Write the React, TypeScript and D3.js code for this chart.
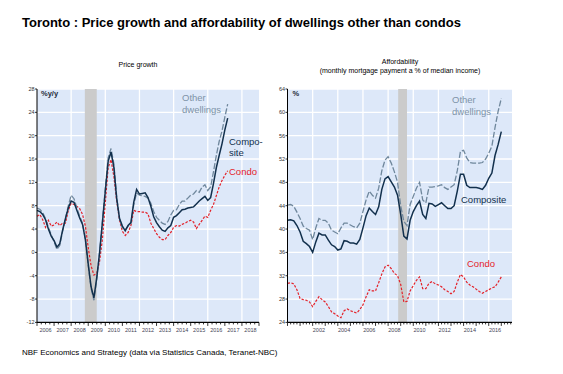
import React from "react";
import * as d3 from "d3";

// price growth, % y/y, one value every 2 months from Jan 2006
const growthStart = 2006;
const growthStep = 2 / 12;
const growthComposite = [
  7.2, 7.0, 6.5, 5.6, 4.0, 2.8,
  2.0, 0.9, 1.5, 3.8, 5.8, 7.6,
  8.8, 8.6, 7.2, 5.9, 4.8, 2.2,
  -2.0, -5.9, -7.8, -4.3, 0.0, 5.2,
  10.5, 15.6, 17.2, 14.6, 9.2, 5.8,
  4.5, 3.7, 4.6, 5.1, 8.6, 10.8,
  10.0, 10.1, 10.2, 9.4, 7.9, 6.1,
  5.1, 4.4, 3.8, 3.6, 4.2, 4.6,
  6.0, 6.3, 6.8, 7.3, 7.4, 7.6,
  7.7, 7.8, 8.3, 8.8, 9.2, 9.6,
  8.9, 9.4, 11.8, 14.5, 16.6, 18.6,
  21.0, 23.0,
];
const growthOther = [
  7.6, 7.4, 6.8, 5.8, 4.3, 3.0,
  1.8, 0.5, 1.2, 3.6, 5.8, 8.0,
  9.8, 9.2, 7.6, 6.2, 5.0, 2.3,
  -2.2, -6.2, -8.2, -4.6, 0.0, 5.4,
  11.0, 16.2, 17.8, 15.2, 9.6, 5.7,
  4.2, 3.9, 4.5, 5.0, 8.2, 10.2,
  9.8, 9.7, 9.6, 9.3, 8.4, 7.0,
  6.0, 5.5, 5.0, 4.8, 5.3, 6.4,
  7.2, 7.3, 8.2, 8.8, 8.8, 9.3,
  9.8, 10.0, 10.6, 10.3, 11.2, 11.6,
  10.6, 11.2, 13.8, 16.6, 19.0, 20.8,
  23.2, 25.4,
];
const growthCondo = [
  6.2, 6.5, 5.6, 4.3, 5.5, 4.5,
  4.7, 5.2, 4.6, 5.0, 5.0, 7.2,
  8.4, 8.2, 7.9, 7.5, 6.5, 4.5,
  0.8, -2.3, -3.9, -3.6, -1.5, 2.3,
  8.5, 14.5, 15.9, 13.0, 8.8, 5.5,
  3.6, 2.9, 3.4, 4.6, 7.2, 7.0,
  7.0, 6.9, 6.9, 6.6, 5.0, 4.1,
  3.2, 2.6, 2.2, 2.2, 2.9, 3.4,
  4.3, 4.6, 4.5, 4.8, 5.0, 5.3,
  5.5, 5.2, 4.1, 4.8, 5.5, 6.2,
  6.0, 7.2, 8.2, 9.7, 11.2, 12.3,
  13.2, 14.0,
];
const growthTicks = [28, 24, 20, 16, 12, 8, 4, 0, -4, -8, -12];
const growthYears = [2006, 2007, 2008, 2009, 2010, 2011, 2012, 2013, 2014, 2015, 2016, 2017, 2018];
const growthGrid = [2008, 2010, 2012, 2014, 2016, 2018];

// affordability, % of median income, quarterly from 2000Q1
const affordStart = 2000;
const affordStep = 0.25;
const affordComposite = [
  41.5, 41.6, 41.4, 40.6,
  39.5, 37.9, 37.5, 37.0,
  36.0, 37.8, 39.3, 39.0,
  39.0, 38.1, 37.3, 37.0,
  36.4, 36.6, 38.0, 37.9,
  37.6, 37.6, 37.4, 38.2,
  40.2, 42.3, 43.6, 43.0,
  42.5, 43.8, 46.8, 48.6,
  49.0, 48.1, 47.2, 45.8,
  42.5, 38.8, 38.3, 41.5,
  43.0, 44.0, 44.8, 42.5,
  41.8, 44.4, 44.3, 43.9,
  44.2, 44.5, 44.0, 43.5,
  43.5, 44.0, 46.5, 49.4,
  49.4, 47.5, 47.1, 47.1,
  47.1, 47.0, 46.8, 47.5,
  48.7, 49.6, 52.6, 54.5,
  56.7,
];
const affordOther = [
  44.1, 44.2, 43.9, 42.9,
  41.8, 40.5, 40.1, 39.8,
  38.2, 40.2, 41.8, 41.5,
  41.5, 41.0, 39.8, 39.5,
  39.2, 40.2, 41.0, 41.0,
  40.7, 40.4, 40.2, 41.0,
  43.0, 45.0, 46.5, 45.8,
  45.3, 47.0, 50.0, 51.8,
  52.4, 51.3, 49.8, 48.0,
  44.0, 41.3, 40.6, 44.2,
  45.6, 47.0, 48.0, 45.0,
  44.5, 47.2, 47.2, 47.3,
  47.4, 47.6, 47.1, 46.8,
  47.2, 47.6, 50.0, 53.3,
  53.5, 52.2, 51.4, 51.3,
  51.3, 51.3, 51.4, 52.0,
  53.0, 54.2, 57.4, 60.2,
  62.4,
];
const affordCondo = [
  30.7, 30.8, 30.6, 29.6,
  28.1, 27.9, 27.8, 27.5,
  26.7, 27.6, 28.4, 27.9,
  27.5, 26.7, 25.8, 25.5,
  25.1, 24.8, 26.0, 26.3,
  26.0, 25.8, 25.6, 26.2,
  27.0, 28.4, 29.6, 29.4,
  29.4, 30.8, 32.3, 33.5,
  33.8, 33.2, 32.4, 32.0,
  30.5, 27.5, 27.6, 29.4,
  30.3, 31.2, 31.8, 29.8,
  29.8, 30.7, 31.0, 30.6,
  30.4, 30.1, 29.6, 29.3,
  28.9, 29.3, 30.9, 32.2,
  31.8, 30.9, 30.4, 30.1,
  29.7, 29.3, 29.0, 29.3,
  29.6, 29.9, 30.1, 30.9,
  31.8,
];
const affordTicks = [64, 60, 56, 52, 48, 44, 40, 36, 32, 28, 24];
const affordYears = [2002, 2004, 2006, 2008, 2010, 2012, 2014, 2016];
const affordGrid = [2002, 2004, 2006, 2008, 2010, 2012, 2014, 2016];

const recession = [2008.8, 2009.5];

const FONT = "'Liberation Sans', Arial, sans-serif";
const BG = "#dde8f9";
const NAVY = "#12304d";
const GREY = "#6f879c";
const RED = "#e4222a";

function Panel(p: any) {
  const x = d3.scaleLinear().domain(p.xDomain).range([p.left, p.right]);
  const y = d3.scaleLinear().domain(p.yDomain).range([p.bottom, p.top]);
  const line = (vals: number[]) =>
    d3.line<number>()
      .x((d, i) => x(p.start + i * p.step))
      .y(d => y(d))(vals) || "";
  const quarters = d3.range(p.xDomain[0] * 4, p.xDomain[1] * 4 + 0.01).map(q => q / 4);

  return (
    <g>
      <rect x={p.left} y={p.top} width={p.right - p.left} height={p.bottom - p.top} fill={BG} />
      {p.ticks.map((t: number) => (
        <line key={"h" + t} x1={p.left} x2={p.right} y1={y(t)} y2={y(t)} stroke="#fff" strokeWidth={1.3} />
      ))}
      {p.grid.map((g: number) => (
        <line key={"v" + g} x1={x(g)} x2={x(g)} y1={p.top} y2={p.bottom} stroke="#fff" strokeWidth={1.3} />
      ))}
      <rect x={x(recession[0])} y={p.top} width={x(recession[1]) - x(recession[0])}
        height={p.bottom - p.top} fill="#cbcbcb" />

      <path d={line(p.condo)} fill="none" stroke={RED} strokeWidth={1.2} strokeDasharray="2.5,1.5" />
      <path d={line(p.other)} fill="none" stroke={GREY} strokeWidth={1.3} strokeDasharray="6,2" />
      <path d={line(p.composite)} fill="none" stroke={NAVY} strokeWidth={1.5} />

      {/* axes */}
      <line x1={p.left} x2={p.left} y1={p.top} y2={p.bottom} stroke="#000" strokeWidth={1} />
      <line x1={p.left} x2={p.right} y1={p.bottom} y2={p.bottom} stroke="#000" strokeWidth={1.2} />
      {p.ticks.map((t: number) => (
        <g key={"yt" + t}>
          <line x1={p.left - 2} x2={p.left} y1={y(t)} y2={y(t)} stroke="#000" strokeWidth={0.8} />
          <text x={p.left - 2.5} y={y(t) + 2} textAnchor="end" fontSize={5.5} fill="#333">{t}</text>
        </g>
      ))}
      {quarters.map(q => (
        <line key={"q" + q} x1={x(q)} x2={x(q)} y1={p.bottom} y2={p.bottom + (q % 1 === 0 ? 3.5 : 2)}
          stroke="#000" strokeWidth={0.8} />
      ))}
      {p.years.map((yr: number) => (
        <text key={"yl" + yr} x={x(yr + 0.5)} y={p.bottom + 10} textAnchor="middle" fontSize={5.5} fill="#445">
          {yr}
        </text>
      ))}
    </g>
  );
}

export default function App() {
  const top = 89;
  const bottom = 322.4;
  return (
    <svg width={563} height={374} style={{ position: "absolute", left: 0, top: 0, background: "#fff" }}
      fontFamily={FONT}>
      <text x={22} y={27} fontSize={13} fontWeight="bold" fill="#000">
        Toronto : Price growth and affordability of dwellings other than condos
      </text>

      <text x={138} y={67} textAnchor="middle" fontSize={7}>Price growth</text>
      <text x={400} y={64} textAnchor="middle" fontSize={7}>Affordability</text>
      <text x={400} y={73} textAnchor="middle" fontSize={7}>(monthly mortgage payment a % of median income)</text>

      <Panel left={37} right={259} top={top} bottom={bottom}
        xDomain={[2006, 2019]} yDomain={[-12, 28]} ticks={growthTicks}
        years={growthYears} grid={growthGrid}
        start={growthStart} step={growthStep}
        composite={growthComposite} other={growthOther} condo={growthCondo} />
      <text x={41} y={96} fontSize={7.5} fontWeight="bold" fill="#1d2b3a">%y/y</text>
      <text x={182} y={101} fontSize={9.5} fill="#7d93a8">Other</text>
      <text x={182} y={113} fontSize={9.5} fill="#7d93a8">dwellings</text>
      <text x={229} y={145} fontSize={9.5} fill={NAVY}>Compo-</text>
      <text x={229} y={156} fontSize={9.5} fill={NAVY}>site</text>
      <text x={229} y={175} fontSize={9.5} fill={RED}>Condo</text>

      <Panel left={287.5} right={512} top={top} bottom={bottom}
        xDomain={[2000, 2017.85]} yDomain={[24, 64]} ticks={affordTicks}
        years={affordYears} grid={affordGrid}
        start={affordStart} step={affordStep}
        composite={affordComposite} other={affordOther} condo={affordCondo} />
      <text x={292.5} y={95.5} fontSize={7.5} fontWeight="bold" fill="#1d2b3a">%</text>
      <text x={452} y={103} fontSize={9.5} fill="#7d93a8">Other</text>
      <text x={452} y={115} fontSize={9.5} fill="#7d93a8">dwellings</text>
      <text x={461} y={202.5} fontSize={9.5} fill={NAVY}>Composite</text>
      <text x={467} y={266.5} fontSize={9.5} fill={RED}>Condo</text>

      <text x={22} y={355} fontSize={8} fill="#000">
        NBF Economics and Strategy (data via Statistics Canada, Teranet-NBC)
      </text>
    </svg>
  );
}
